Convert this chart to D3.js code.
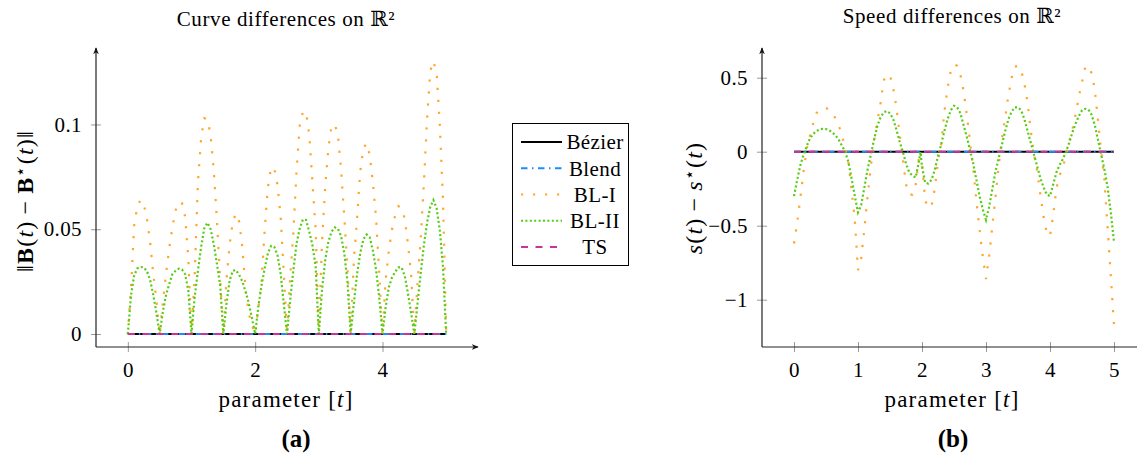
<!DOCTYPE html>
<html>
<head>
<meta charset="utf-8">
<script src="https://cdnjs.cloudflare.com/ajax/libs/d3/7.8.5/d3.min.js"></script>
<style>
body{margin:0;background:#fff;}
text{font-family:"Liberation Serif","DejaVu Serif",serif;fill:#000;}
</style>
</head>
<body>
<svg id="chart" width="1137" height="456"></svg>
<script>
// sample grid of the parameter t (step 0.05), right plot has one extra sample near t=2
var gridT = d3.range(101).map(function(i){ return i / 20; });
var rightT = gridT.slice(0, 40).concat([1.975], gridT.slice(40));
var flatT = [0, 5];

// legend names
var seriesNames = ["Bézier", "Blend", "BL-I", "BL-II", "TS"];

// (a) curve differences ||B(t) - B*(t)||
var bezierL = [0, 0];
var blendL = [0, 0];
var tsL = [0, 0];
var bl1L = [
  0, .022, .052, .061, .064, .062, .055, .044, .0285, .016,
  0, .015, .0286, .041, .051, .059, .063, .0625, .056, .036,
  0, .028, .072, .093, .103, .1025, .095, .078, .054, .026,
  0, .026, .043, .054, .0575, .0535, .041, .021, .0099, .004,
  0, .0123, .025, .050, .070, .0795, .079, .0713, .056, .029,
  0, .027, .0484, .078, .0995, .106, .106, .095, .0724, .0497,
  0, .044, .0703, .0885, .0995, .100, .095, .078, .056, .031,
  0, .035, .0548, .0775, .0887, .091, .0853, .072, .055, .028,
  0, .026, .040, .050, .0568, .061, .060, .055, .043, .028,
  0, .024, .0457, .072, .1025, .1254, .1302, .1245, .100, .064,
  .002
];
var bl2L = [
  0, .0186, .028, .0313, .032, .0318, .030, .0258, .0186, .0099,
  0, .0107, .0186, .0238, .0286, .0302, .0312, .0308, .0286, .0207,
  0, .0178, .030, .0413, .0504, .0531, .0501, .0429, .0334, .0234,
  0, .0146, .0258, .0302, .0305, .0281, .025, .0202, .0146, .0075,
  0, .0131, .0233, .0314, .0386, .042, .0416, .0377, .0288, .0144,
  0, .0162, .0305, .0432, .0504, .0547, .0544, .0488, .0424, .0321,
  0, .021, .0353, .044, .0488, .0509, .0502, .0467, .0385, .025,
  0, .0146, .0285, .0385, .0452, .0475, .0461, .0397, .0305, .017,
  0, .013, .0223, .027, .0297, .0318, .0318, .0277, .0194, .0099,
  0, .0146, .0289, .0424, .0531, .0607, .0639, .060, .0496, .0321,
  0
];

// (b) speed differences s(t) - s*(t)
var bezierR = [0, 0];
var blendR = [0, 0];
var tsR = [0, 0];
var bl1R = [
  -0.62, -0.48, -0.31, -0.13, 0.02, 0.11, 0.19, 0.26, 0.285, 0.295,
  0.295, 0.285, 0.255, 0.225, 0.175, 0.11, 0.02, -0.07, -0.26, -0.46,
  -0.80, -0.72, -0.52, -0.30, -0.10, 0.07, 0.20, 0.32, 0.48, 0.52,
  0.515, 0.43, 0.30, 0.12, -0.045, -0.22, -0.29, -0.29, -0.23, -0.05,
  0.0,
  -0.08, -0.33, -0.38, -0.365, -0.25, -0.06, 0.05, 0.27, 0.43, 0.55,
  0.59, 0.58, 0.52, 0.41, 0.25, 0.07, -0.11, -0.33, -0.53, -0.71,
  -0.86, -0.70, -0.50, -0.30, -0.09, 0.09, 0.23, 0.38, 0.50, 0.575,
  0.58, 0.55, 0.46, 0.33, 0.14, -0.02, -0.13, -0.29, -0.44, -0.55,
  -0.57, -0.43, -0.25, -0.16, -0.11, -0.02, 0.07, 0.15, 0.25, 0.37,
  0.47, 0.57, 0.58, 0.53, 0.42, 0.21, 0.0, -0.19, -0.51, -0.84,
  -1.17
];
var bl2R = [
  -0.30, -0.19, -0.09, -0.02, 0.04, 0.09, 0.12, 0.14, 0.15, 0.155,
  0.153, 0.145, 0.13, 0.11, 0.08, 0.04, 0.0, -0.07, -0.18, -0.30,
  -0.41, -0.36, -0.24, -0.12, -0.02, 0.08, 0.17, 0.23, 0.265, 0.275,
  0.26, 0.22, 0.15, 0.07, 0.0, -0.08, -0.14, -0.16, -0.175, -0.07,
  0.0,
  -0.10, -0.21, -0.215, -0.19, -0.12, -0.03, 0.05, 0.14, 0.22, 0.28,
  0.31, 0.30, 0.26, 0.18, 0.10, 0.01, -0.08, -0.19, -0.30, -0.39,
  -0.46, -0.37, -0.25, -0.13, -0.04, 0.05, 0.14, 0.22, 0.27, 0.30,
  0.30, 0.28, 0.22, 0.14, 0.06, -0.02, -0.10, -0.18, -0.24, -0.29,
  -0.30, -0.22, -0.14, -0.09, -0.05, 0.0, 0.06, 0.13, 0.19, 0.24,
  0.28, 0.29, 0.285, 0.25, 0.18, 0.08, -0.02, -0.12, -0.24, -0.41,
  -0.61
];

var leftXTicks = [0, 2, 4];
var leftYTicks = [0, 0.05, 0.1];
var rightXTicks = [0, 1, 2, 3, 4, 5];
var rightYTicks = [-1, -0.5, 0, 0.5];

// styles (same order as seriesNames)
var styles = [
  {color: "#000000", dash: null, width: 2},
  {color: "#1e8cff", dash: "6.5 4.5 1.5 4.5", width: 2},
  {color: "#ffa62b", dash: "2.2 9.8", width: 2.2},
  {color: "#55cc11", dash: "2 2.4", width: 2.2},
  {color: "#cc3399", dash: "7 7.5", width: 2}
];

var svg = d3.select("#chart");
svg.append("rect").attr("width", 1137).attr("height", 456).attr("fill", "#fff");

svg.append("defs").append("marker")
  .attr("id", "arrow")
  .attr("viewBox", "0 0 10 10")
  .attr("refX", 9).attr("refY", 5)
  .attr("markerWidth", 7).attr("markerHeight", 7)
  .attr("markerUnits", "userSpaceOnUse")
  .attr("orient", "auto")
  .append("path")
  .attr("d", "M0,1 L10,5 L0,9 L3,5 Z")
  .attr("fill", "#111");

var fmt = function(v){
  if (v === 0) return "0";
  return (v < 0 ? "\u2212" : "") + String(Math.abs(v));
};

var drawPanel = function(p){
  var x = d3.scaleLinear().domain([-0.5, 5.5]).range(p.xRange);
  var y = d3.scaleLinear().domain(p.yDomain).range([347, 48]);
  var g = svg.append("g");

  // axes
  var xAxis = g.append("g").attr("transform", "translate(0,347)")
    .call(d3.axisBottom(x).tickValues(p.xTicks).tickFormat(fmt).tickSizeInner(5).tickSizeOuter(0).tickPadding(10));
  var yAxis = g.append("g").attr("transform", "translate(" + p.xRange[0] + ",0)")
    .call(d3.axisLeft(y).tickValues(p.yTicks).tickFormat(fmt).tickSizeInner(5).tickSizeOuter(0).tickPadding(9));
  [xAxis, yAxis].forEach(function(a){
    a.select(".domain").remove();
    a.selectAll(".tick line").attr("stroke", "#9a9a9a").attr("stroke-width", 1);
    a.selectAll(".tick text").attr("font-size", 21).attr("font-family", null).attr("letter-spacing", 0.4);
  });
  xAxis.selectAll(".tick line").attr("y1", -5).attr("y2", 5);
  yAxis.selectAll(".tick line").attr("x1", -5).attr("x2", 5);

  g.append("line").attr("x1", p.xRange[0]).attr("y1", 347).attr("x2", p.xRange[1]).attr("y2", 347)
    .attr("stroke", "#222").attr("stroke-width", 1.2).attr("marker-end", "url(#arrow)");
  g.append("line").attr("x1", p.xRange[0]).attr("y1", 347).attr("x2", p.xRange[0]).attr("y2", 48)
    .attr("stroke", "#222").attr("stroke-width", 1.2).attr("marker-end", "url(#arrow)");

  // series
  var line = d3.line().x(function(d){ return x(d[0]); }).y(function(d){ return y(d[1]); });
  [0, 1, 2, 3, 4].forEach(function(k){
    var s = p.series[k];
    g.append("path")
      .datum(d3.zip(s.t, s.v))
      .attr("d", line)
      .attr("fill", "none")
      .attr("stroke", styles[k].color)
      .attr("stroke-width", styles[k].width)
      .attr("stroke-dasharray", styles[k].dash);
  });

  // texts
  g.append("text").attr("x", p.titleX).attr("y", p.titleY).attr("text-anchor", "middle")
    .attr("font-size", 21).attr("letter-spacing", 0.6).text(p.title);
  var xl = g.append("text").attr("x", p.titleX).attr("y", 407).attr("text-anchor", "middle")
    .attr("font-size", 23).attr("letter-spacing", 1.2);
  xl.append("tspan").text("parameter [");
  xl.append("tspan").attr("font-style", "italic").text("t");
  xl.append("tspan").text("]");
  g.append("text").attr("x", p.capX).attr("y", 447).attr("text-anchor", "middle")
    .attr("font-size", 25).attr("font-weight", "bold").text(p.caption);

  var yl = g.append("text")
    .attr("transform", "translate(" + p.yLabelX + "," + p.yLabelY + ") rotate(-90)")
    .attr("text-anchor", "middle").attr("dy", "0.35em").attr("font-size", 24).attr("letter-spacing", 1.2);
  p.yLabel.forEach(function(part){
    var ts = yl.append("tspan").text(part.s);
    if (part.b) ts.attr("font-weight", "bold");
    if (part.i) ts.attr("font-style", "italic");
    if (part.sup) ts.attr("font-size", 17).attr("dy", "-0.45em");
    if (part.down) ts.attr("dy", "0.32em");
  });
};

drawPanel({
  xRange: [96, 478], yDomain: [-0.0062, 0.1365],
  xTicks: leftXTicks, yTicks: leftYTicks,
  title: "Curve differences on \u211D\u00B2", titleX: 286, titleY: 26, capX: 296, caption: "(a)",
  yLabelX: 25, yLabelY: 201,
  yLabel: [{s: "\u2016"}, {s: "B", b: true}, {s: "("}, {s: "t", i: true}, {s: ")\u2009\u2212\u2009"},
           {s: "B", b: true}, {s: "\u22C6", sup: true}, {s: "(", down: true}, {s: "t", i: true}, {s: ")\u2016"}],
  series: [
    {t: flatT, v: bezierL}, {t: flatT, v: blendL}, {t: gridT, v: bl1L},
    {t: gridT, v: bl2L}, {t: flatT, v: tsL}
  ]
});

drawPanel({
  xRange: [762, 1146], yDomain: [-1.3196, 0.7007],
  xTicks: rightXTicks, yTicks: rightYTicks,
  title: "Speed differences on \u211D\u00B2", titleX: 952, titleY: 23, capX: 953, caption: "(b)",
  yLabelX: 694, yLabelY: 198,
  yLabel: [{s: "s", i: true}, {s: "("}, {s: "t", i: true}, {s: ")\u2009\u2212\u2009"},
           {s: "s", i: true}, {s: "\u22C6", sup: true}, {s: "(", down: true}, {s: "t", i: true}, {s: ")"}],
  series: [
    {t: flatT, v: bezierR}, {t: flatT, v: blendR}, {t: rightT, v: bl1R},
    {t: rightT, v: bl2R}, {t: flatT, v: tsR}
  ]
});

// legend
var legend = svg.append("g");
legend.append("rect").attr("x", 512.5).attr("y", 123.5).attr("width", 116).attr("height", 142)
  .attr("fill", "#fff").attr("stroke", "#000").attr("stroke-width", 1);
var rowY = d3.scalePoint().domain(seriesNames).range([142, 247]);
seriesNames.forEach(function(name, k){
  legend.append("line").attr("x1", 521).attr("x2", 562).attr("y1", rowY(name)).attr("y2", rowY(name))
    .attr("stroke", styles[k].color).attr("stroke-width", styles[k].width)
    .attr("stroke-dasharray", styles[k].dash);
  legend.append("text").attr("x", 595).attr("y", rowY(name)).attr("dy", "0.35em")
    .attr("text-anchor", "middle").attr("font-size", 21).attr("letter-spacing", 0.4).text(name);
});
</script>
</body>
</html>
